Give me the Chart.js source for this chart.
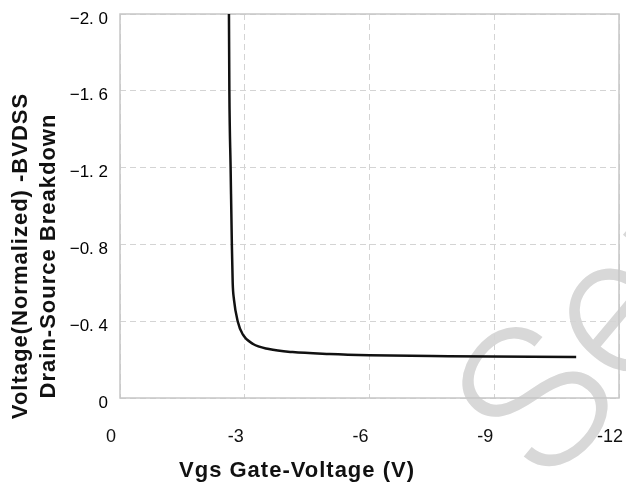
<!DOCTYPE html>
<html><head><meta charset="utf-8">
<script src="https://cdn.jsdelivr.net/npm/chart.js@4.4.1/dist/chart.umd.min.js"></script>
<style>html,body{margin:0;padding:0;background:#fff;}canvas{display:block;}</style>
</head><body>
<canvas id="c" width="626" height="486"></canvas>
<script>
// Vgs (V) and normalized BVDSS
const vgs   = [-2.62, -2.63, -2.66, -2.69, -2.71, -2.74, -2.83, -2.95, -3.2, -3.58, -4.15, -5.04, -6.0, -7.9, -10.97];
const bvdss = [-2.0, -1.6, -1.2, -0.8, -0.6, -0.514, -0.40, -0.332, -0.281, -0.255, -0.239, -0.229, -0.223, -0.218, -0.213];
const yTickValues = [0, -0.4, -0.8, -1.2, -1.6, -2.0];
const yTickLabels = ['0', '\u22120. 4', '\u22120. 8', '\u22121. 2', '\u22121. 6', '\u22122. 0'];
const xTickValues = [0, -3, -6, -9, -12];
const xTickLabels = ['0', '-3', '-6', '-9', '-12'];
const xTitle = 'Vgs Gate-Voltage (V)';
const yTitle = ['Voltage(Normalized) -BVDSS', 'Drain-Source Breakdown'];
const watermark = 'Semi';

const points = vgs.map((v, i) => ({x: v, y: bvdss[i]}));

function labelFor(values, labels, v) {
  let best = 0;
  values.forEach((t, i) => { if (Math.abs(t - v) < Math.abs(values[best] - v)) best = i; });
  return Math.abs(values[best] - v) < 1e-6 ? labels[best] : '';
}

const deco = {
  id: 'deco',
  beforeDraw(chart) {
    const {ctx} = chart;
    ctx.save();
    ctx.translate(550, 490);
    ctx.rotate(-50 * Math.PI / 180);
    ctx.fillStyle = '#d8d8d8';
    ctx.font = '300 205px Roboto, "Liberation Sans", sans-serif';
    ctx.textAlign = 'left';
    ctx.textBaseline = 'alphabetic';
    ctx.fillText(watermark, 0, 0);
    ctx.restore();
  },
  beforeDatasetsDraw(chart) {
    const {ctx, chartArea: a} = chart;
    ctx.save();
    ctx.strokeStyle = '#c6c6c6';
    ctx.lineWidth = 1.5;
    ctx.strokeRect(a.left, a.top, a.right - a.left, a.bottom - a.top);
    ctx.restore();
  },
  afterDraw(chart) {
    const {ctx} = chart;
    ctx.save();
    ctx.fillStyle = '#111';
    ctx.font = 'bold 22px "Liberation Sans", Arial, sans-serif';
    ctx.letterSpacing = '1px';
    ctx.textAlign = 'center';
    ctx.textBaseline = 'alphabetic';
    ctx.fillText(xTitle, 297, 477);
    ctx.translate(0, 256);
    ctx.rotate(-Math.PI / 2);
    ctx.fillText(yTitle[0], 0, 27);
    ctx.fillText(yTitle[1], 0, 55);
    ctx.restore();
  }
};

new Chart(document.getElementById('c'), {
  type: 'line',
  data: {
    datasets: [{
      data: points,
      borderColor: '#111',
      borderWidth: 2.5,
      pointRadius: 0,
      fill: false,
      cubicInterpolationMode: 'monotone'
    }]
  },
  options: {
    responsive: false,
    animation: false,
    layout: {padding: {top: 14, right: 7, left: 0, bottom: 0}},
    plugins: {legend: {display: false}, tooltip: {enabled: false}},
    scales: {
      x: {
        type: 'linear',
        min: -12, max: 0, reverse: true,
        afterBuildTicks: s => { s.ticks = xTickValues.map(v => ({value: v})); },
        afterFit: s => { s.height = 88; s.paddingLeft = 0; s.paddingRight = 0; },
        grid: {color: '#d4d4d4', lineWidth: 1, drawTicks: false, borderDash: [6, 4]},
        border: {display: false, dash: [6, 4]},
        ticks: {
          padding: 28, labelOffset: -9, maxRotation: 0, autoSkip: false,
          color: '#111',
          font: {family: '"Liberation Sans", Arial, sans-serif', size: 18},
          callback: v => labelFor(xTickValues, xTickLabels, v)
        }
      },
      y: {
        type: 'linear',
        min: -2, max: 0, reverse: true,
        afterBuildTicks: s => { s.ticks = yTickValues.map(v => ({value: v})); },
        afterFit: s => { s.width = 120; s.paddingTop = 0; s.paddingBottom = 0; },
        grid: {color: '#d4d4d4', lineWidth: 1, drawTicks: false, borderDash: [6, 4]},
        border: {display: false, dash: [6, 4]},
        ticks: {
          padding: 12, labelOffset: 5, autoSkip: false,
          color: '#000',
          font: {family: '"Liberation Sans", Arial, sans-serif', size: 17},
          callback: v => labelFor(yTickValues, yTickLabels, v)
        }
      }
    }
  },
  plugins: [deco]
});
</script>
</body></html>
